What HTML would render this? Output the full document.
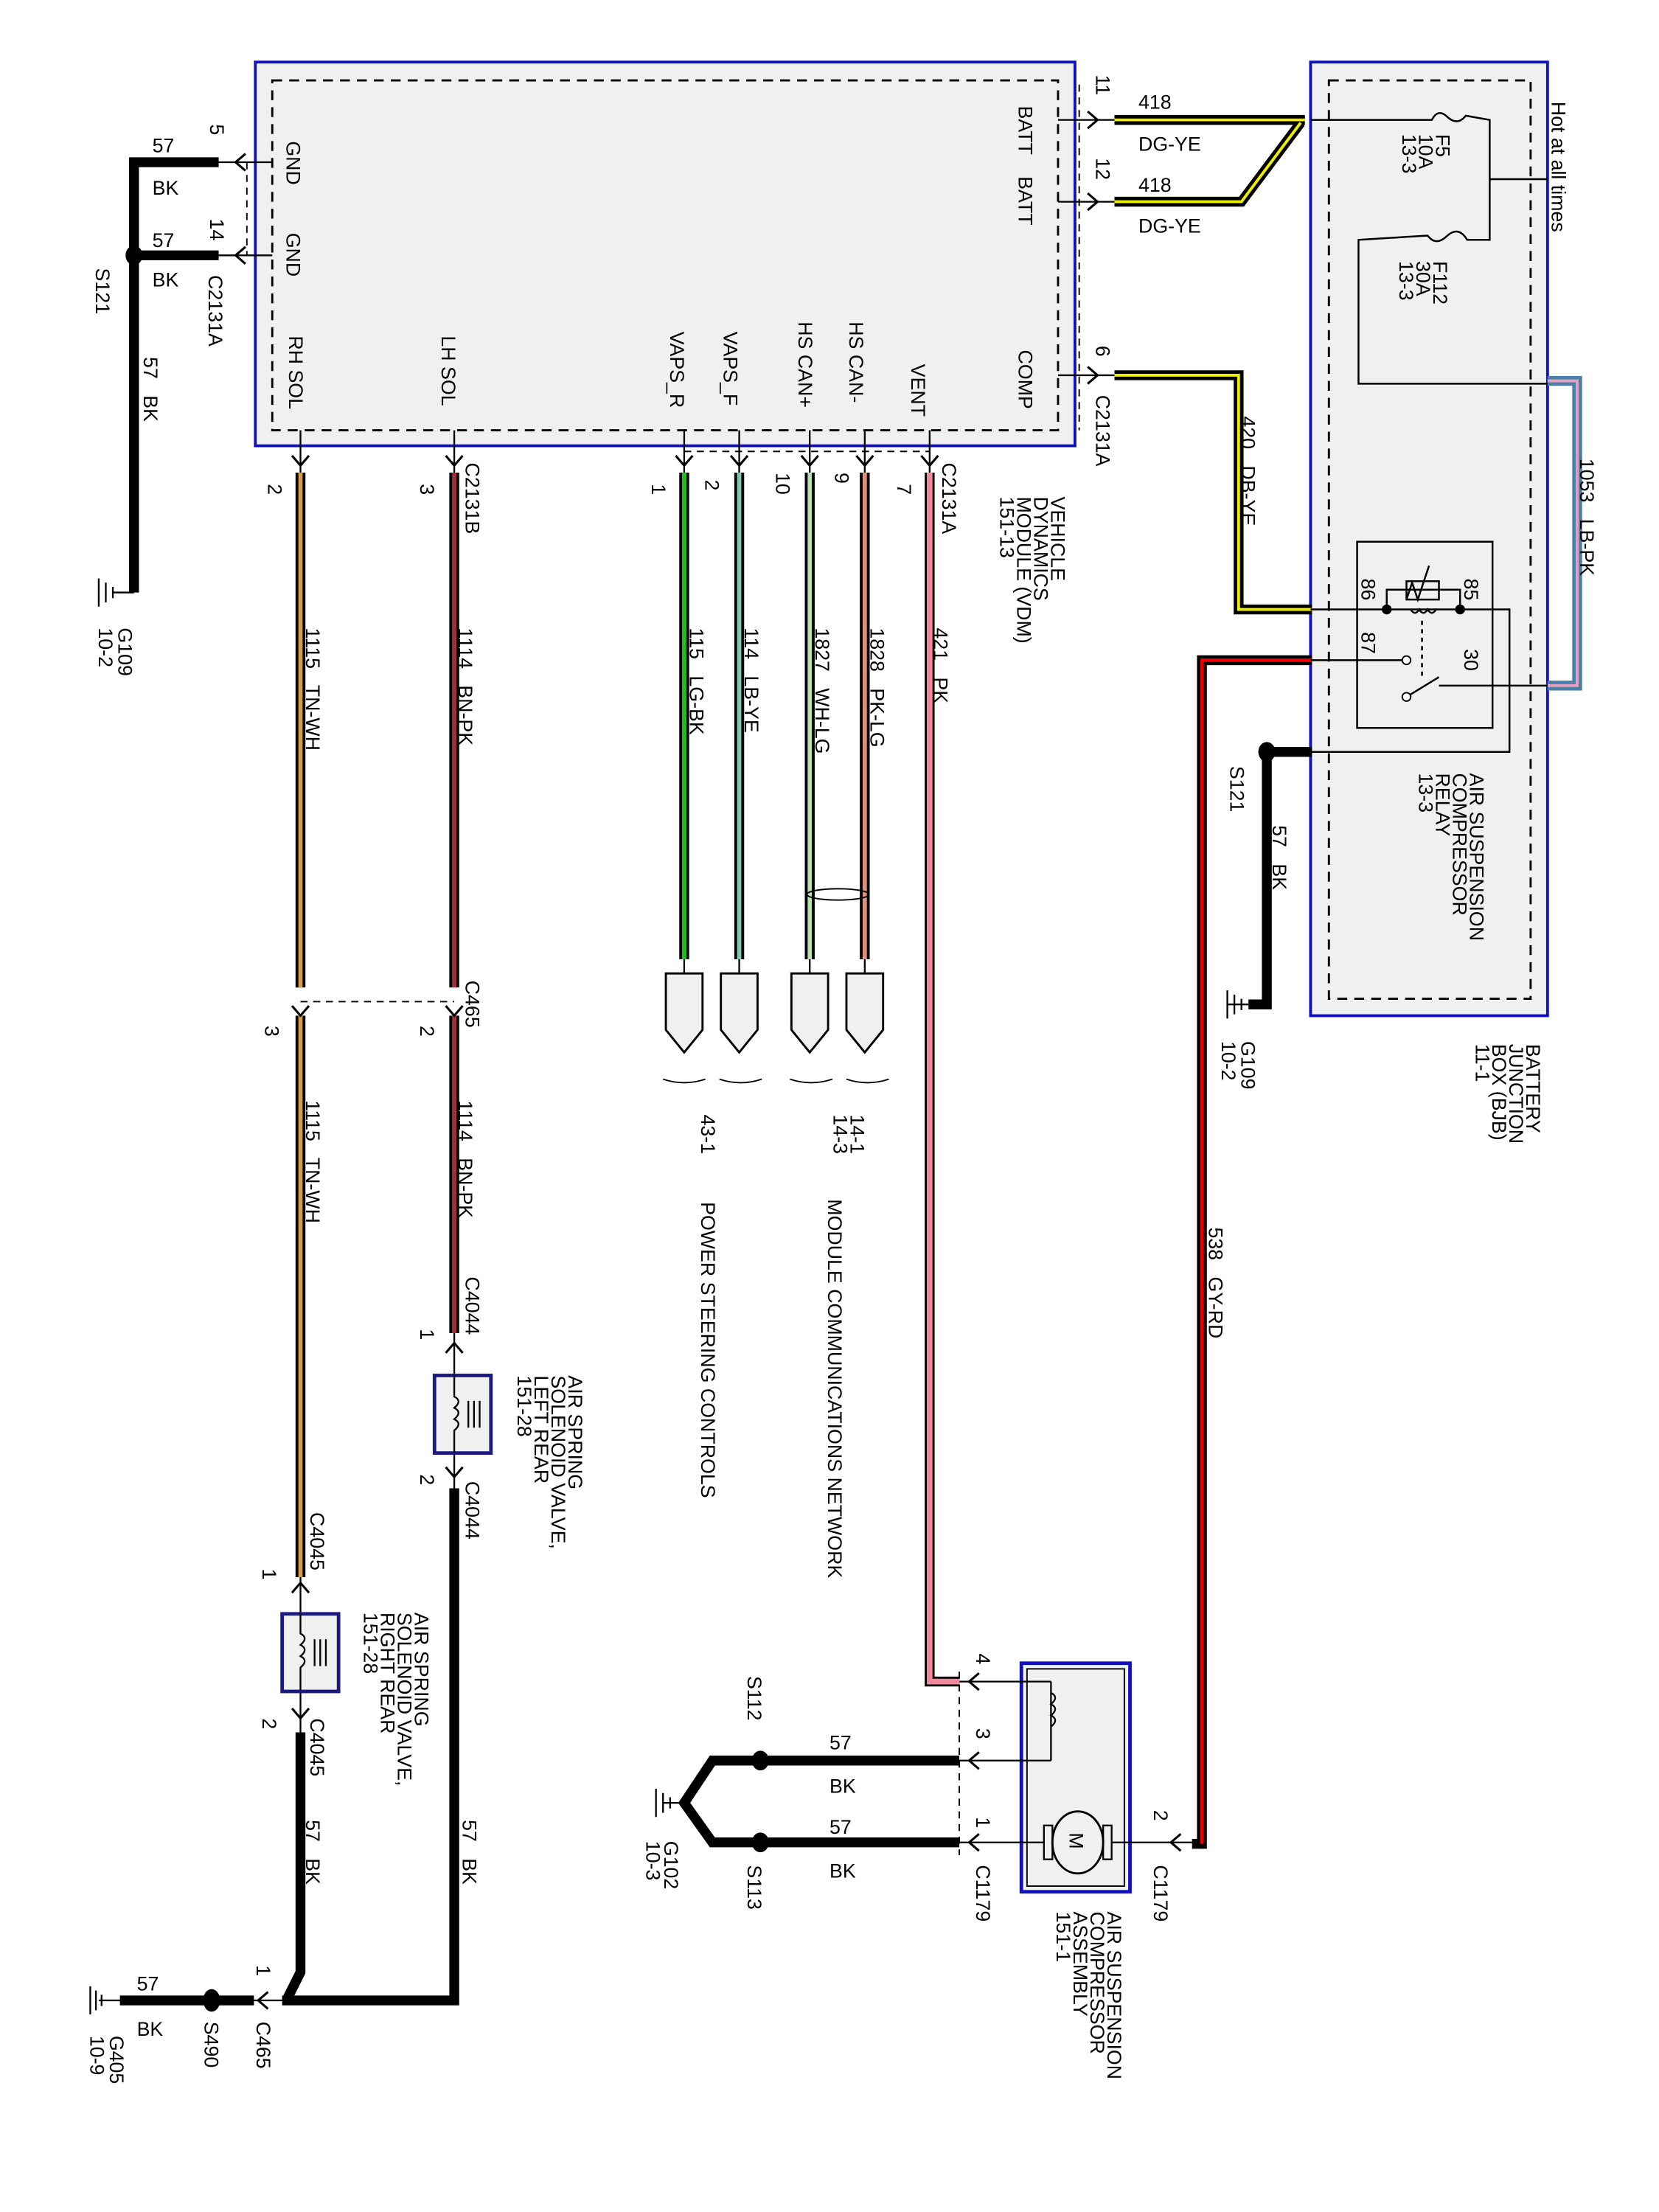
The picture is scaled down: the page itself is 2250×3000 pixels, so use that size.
<!DOCTYPE html>
<html><head><meta charset="utf-8"><style>
html,body{margin:0;padding:0;background:#fff}
svg{display:block}
text{font-family:"Liberation Sans",Arial,sans-serif;font-size:14px;fill:#000;white-space:pre}
</style></head><body>
<svg width="2250" height="3000" viewBox="0 0 1176 1568" xmlns="http://www.w3.org/2000/svg">
<defs>
<g id="chD"><path d="M-6,-7 L0,0 L6,-7" fill="none" stroke="#000" stroke-width="1.6"/></g>
<g id="chU"><path d="M-6,7 L0,0 L6,7" fill="none" stroke="#000" stroke-width="1.6"/></g>
<g id="chR"><path d="M-7,-6 L0,0 L-7,6" fill="none" stroke="#000" stroke-width="1.6"/></g>
<g id="chL"><path d="M7,-6 L0,0 L7,6" fill="none" stroke="#000" stroke-width="1.6"/></g>
</defs>

<rect x="181" y="44" width="581" height="272" fill="#f0f0f0" stroke="#1010c0" stroke-width="2"/>
<rect x="193" y="57" width="557" height="248" fill="none" stroke="#000" stroke-width="1.5" stroke-dasharray="7,5"/>
<line x1="765" y1="60" x2="765" y2="305" stroke="#000" stroke-width="1" stroke-dasharray="5,4"/>
<line x1="175" y1="115" x2="175" y2="181" stroke="#000" stroke-width="1" stroke-dasharray="5,4"/>
<line x1="485" y1="320" x2="659" y2="320" stroke="#000" stroke-width="1" stroke-dasharray="5,4"/>

<rect x="929" y="44" width="168" height="676" fill="#f0f0f0" stroke="#1010c0" stroke-width="2"/>
<rect x="942" y="57" width="143" height="651" fill="none" stroke="#000" stroke-width="1.5" stroke-dasharray="7,5"/>

<rect x="724" y="1179" width="77" height="162" fill="#f0f0f0" stroke="#1010c0" stroke-width="2.5"/>
<rect x="728" y="1183" width="69" height="154" fill="none" stroke="#000" stroke-width="1"/>

<g fill="none" stroke-linejoin="miter">
<path d="M95,420 L95,115 L155,115 M95,181 L155,181" stroke="#000" stroke-width="7"/>
<path d="M790,85 L925,85 M790,143 L880,143 L922,87" stroke="#000" stroke-width="7"/>
<path d="M790,85 L925,85 M790,143 L880,143 L922,87" stroke="#ee0" stroke-width="2"/>
<path d="M790,266 L878,266 L878,432 L930,432" stroke="#000" stroke-width="7"/>
<path d="M790,266 L878,266 L878,432 L930,432" stroke="#ee0" stroke-width="2"/>
<path d="M930,468 L852,468 L852,1307 L845,1307" stroke="#000" stroke-width="7"/>
<path d="M930,468 L852,468 L852,1307" stroke="#e00" stroke-width="2.5"/>
<path d="M1097,270 L1118,270 L1118,486 L1097,486" stroke="#4a7fa8" stroke-width="7"/>
<path d="M1097,270 L1118,270 L1118,486 L1097,486" stroke="#e8a0c0" stroke-width="2"/>
<path d="M930,533 L898,533 L898,712 L885,712" stroke="#000" stroke-width="7"/>
<path d="M213,335 L213,700 M213,720 L213,1118" stroke="#000" stroke-width="7"/>
<path d="M213,335 L213,700 M213,720 L213,1118" stroke="#d99a40" stroke-width="3"/>
<path d="M322,335 L322,700 M322,720 L322,945" stroke="#000" stroke-width="7"/>
<path d="M322,335 L322,700 M322,720 L322,945" stroke="#a0303a" stroke-width="3"/>
<path d="M485,335 L485,680" stroke="#000" stroke-width="7"/>
<path d="M485,335 L485,680" stroke="#20c020" stroke-width="3"/>
<path d="M524,335 L524,680" stroke="#000" stroke-width="7"/>
<path d="M524,335 L524,680" stroke="#80c8b0" stroke-width="3"/>
<path d="M574,335 L574,680" stroke="#000" stroke-width="7"/>
<path d="M574,335 L574,680" stroke="#b8e0b0" stroke-width="3"/>
<path d="M613,335 L613,680" stroke="#000" stroke-width="7"/>
<path d="M613,335 L613,680" stroke="#e09080" stroke-width="3"/>
<path d="M659,335 L659,1192 L680,1192" stroke="#000" stroke-width="7"/>
<path d="M659,335 L659,1192 L680,1192" stroke="#f08a9a" stroke-width="4"/>
<path d="M322,1055 L322,1418 L200,1418 M213,1228 L213,1398 L203,1418 M85,1418 L180,1418" stroke="#000" stroke-width="7"/>
<path d="M540,1248 L680,1248 M540,1306 L680,1306 M540,1248 L505,1248 L485,1278 L505,1306 L540,1306" stroke="#000" stroke-width="7"/>
</g>

<ellipse cx="594" cy="634" rx="22" ry="4" fill="none" stroke="#000" stroke-width="1"/>
<line x1="213" y1="710" x2="322" y2="710" stroke="#000" stroke-width="1" stroke-dasharray="5,4"/>
<line x1="680" y1="1185" x2="680" y2="1315" stroke="#000" stroke-width="1" stroke-dasharray="5,4"/>

<g fill="#000">
<ellipse cx="95" cy="181" rx="6" ry="7"/>
<ellipse cx="898" cy="533" rx="6" ry="7"/>
<ellipse cx="539" cy="1248" rx="6" ry="7"/>
<ellipse cx="539" cy="1306" rx="6" ry="7"/>
<ellipse cx="150" cy="1418" rx="6" ry="8"/>
</g>

<g stroke="#000" stroke-width="1.2">
<line x1="155" y1="115" x2="193" y2="115"/><line x1="155" y1="181" x2="193" y2="181"/>
<line x1="750" y1="85" x2="790" y2="85"/><line x1="750" y1="143" x2="790" y2="143"/><line x1="750" y1="266" x2="790" y2="266"/>
<line x1="213" y1="305" x2="213" y2="335"/><line x1="322" y1="305" x2="322" y2="335"/><line x1="485" y1="305" x2="485" y2="335"/><line x1="524" y1="305" x2="524" y2="335"/><line x1="574" y1="305" x2="574" y2="335"/><line x1="613" y1="305" x2="613" y2="335"/><line x1="659" y1="305" x2="659" y2="335"/>
<line x1="322" y1="945" x2="322" y2="975"/><line x1="322" y1="1030" x2="322" y2="1055"/>
<line x1="213" y1="1118" x2="213" y2="1145"/><line x1="213" y1="1198" x2="213" y2="1228"/>
<line x1="180" y1="1418" x2="200" y2="1418"/><line x1="70" y1="1418" x2="85" y2="1418"/>
<line x1="870" y1="712" x2="885" y2="712"/>
<line x1="470" y1="1278" x2="485" y2="1278"/>
<line x1="680" y1="1192" x2="745" y2="1192"/><line x1="745" y1="1192" x2="745" y2="1248"/><line x1="680" y1="1248" x2="745" y2="1248"/>
<line x1="680" y1="1306" x2="740" y2="1306"/><line x1="788" y1="1306" x2="845" y2="1306"/>
</g>
<use href="#chL" x="167" y="115"/><use href="#chL" x="167" y="181"/>
<use href="#chR" x="778" y="85"/><use href="#chR" x="778" y="143"/><use href="#chR" x="778" y="266"/>
<use href="#chD" x="213" y="330"/><use href="#chD" x="322" y="330"/><use href="#chD" x="485" y="330"/><use href="#chD" x="524" y="330"/><use href="#chD" x="574" y="330"/><use href="#chD" x="613" y="330"/><use href="#chD" x="659" y="330"/>
<use href="#chD" x="213" y="720"/><use href="#chD" x="322" y="720"/>
<use href="#chU" x="322" y="952"/><use href="#chD" x="322" y="1047"/>
<use href="#chU" x="213" y="1122"/><use href="#chD" x="213" y="1218"/>
<use href="#chL" x="183" y="1418"/>
<use href="#chL" x="687" y="1192"/><use href="#chL" x="687" y="1248"/><use href="#chL" x="687" y="1306"/><use href="#chL" x="830" y="1306"/>

<g stroke="#000" stroke-width="1.2">
<path d="M70,410 L70,430 M75,413 L75,427 M80,416 L80,424 M80,420 L95,420"/>
<path d="M870,702 L870,722 M875,705 L875,719 M880,708 L880,716"/>
<path d="M465,1268 L465,1288 M470,1271 L470,1285 M475,1274 L475,1282"/>
<path d="M64,1408 L64,1428 M68,1411 L68,1425 M72,1414 L72,1422"/>
</g>

<g fill="#f0f0f0" stroke="#000" stroke-width="1.5">
<path d="M472,690 L498,690 L498,730 L485,746 L472,730 Z"/>
<path d="M511,690 L537,690 L537,730 L524,746 L511,730 Z"/>
<path d="M561,690 L587,690 L587,730 L574,746 L561,730 Z"/>
<path d="M600,690 L626,690 L626,730 L613,746 L600,730 Z"/>
</g>
<g fill="none" stroke="#000" stroke-width="1">
<path d="M470,765 Q485,770 500,765 M510,765 Q525,770 540,765 M560,765 Q575,770 590,765 M600,765 Q615,770 630,765"/>
</g>
<g fill="none" stroke="#000" stroke-width="1.2">
<line x1="485" y1="680" x2="485" y2="690"/><line x1="524" y1="680" x2="524" y2="690"/><line x1="574" y1="680" x2="574" y2="690"/><line x1="613" y1="680" x2="613" y2="690"/>
</g>

<rect x="308" y="975" width="40" height="55" fill="#f0f0f0" stroke="#1a1a80" stroke-width="2.5"/>
<path d="M322,975 L322,990 q6,3 0,8 q6,3 0,8 q6,3 0,8 L322,1030 M332,993 L332,1012 M336,993 L336,1012 M340,993 L340,1012" fill="none" stroke="#000" stroke-width="1.2"/>
<rect x="200" y="1144" width="40" height="55" fill="#f0f0f0" stroke="#1a1a80" stroke-width="2.5"/>
<path d="M213,1144 L213,1158 q6,3 0,8 q6,3 0,8 q6,3 0,8 L213,1198 M223,1162 L223,1181 M227,1162 L227,1181 M231,1162 L231,1181" fill="none" stroke="#000" stroke-width="1.2"/>

<path d="M745,1200 q6,3 0,8 q6,3 0,8 q6,3 0,8" fill="none" stroke="#000" stroke-width="1.2"/>
<ellipse cx="764" cy="1306" rx="18" ry="22" fill="#f0f0f0" stroke="#000" stroke-width="1.5"/>
<rect x="740" y="1294" width="6" height="24" fill="none" stroke="#000" stroke-width="1.2"/>
<rect x="782" y="1294" width="6" height="24" fill="none" stroke="#000" stroke-width="1.2"/>
<text transform="translate(758,1299) rotate(90)" font-size="14">M</text>

<g fill="none" stroke="#000" stroke-width="1.3">
<path d="M929,85 L1015,85 q4,-8 10,-3 q8,8 14,0 L1056,85 L1056,170 L1040,170 q-6,-10 -14,-3 q-8,8 -14,0 L963,170 L963,272 L1097,272"/>
<path d="M1056,127 L1097,127"/>
<rect x="962" y="384" width="96" height="132"/>
<path d="M929,432 L1070,432 L1070,533 L929,533"/>
<path d="M983,432 L983,418 L1035,418 L1035,432 M997,412 L997,425 L1020,425 L1020,412 Z M997,425 l4,-12 l4,12 l4,-12 l4,-12 M1000,432 q3,5 6,0 q3,5 6,0 q3,5 6,0"/>
<path d="M1008,440 L1008,480" stroke-dasharray="3,3"/>
<path d="M929,468 L995,468 M997,494 L1020,480 M1020,486 L1097,486"/>
</g>
<circle cx="983" cy="432" r="3.5" fill="#000"/><circle cx="1035" cy="432" r="3.5" fill="#000"/>
<circle cx="997" cy="468" r="3" fill="#fff" stroke="#000"/><circle cx="997" cy="494" r="3" fill="#fff" stroke="#000"/>

<g>
<text transform="translate(149,88) rotate(90)">5</text>
<text transform="translate(149,155) rotate(90)">14</text>
<text transform="translate(203,100) rotate(90)">GND</text>
<text transform="translate(203,165) rotate(90)">GND</text>
<text transform="translate(68,190) rotate(90)">S121</text>
<text transform="translate(148,195) rotate(90)">C2131A</text>
<text transform="translate(102,253) rotate(90)">57   BK</text>
<text transform="translate(205,238) rotate(90)">RH SOL</text>
<text transform="translate(313,238) rotate(90)">LH SOL</text>
<text transform="translate(475,235) rotate(90)">VAPS_R</text>
<text transform="translate(513,235) rotate(90)">VAPS_F</text>
<text transform="translate(566,228) rotate(90)">HS CAN+</text>
<text transform="translate(602,228) rotate(90)">HS CAN-</text>
<text transform="translate(646,258) rotate(90)">VENT</text>
<text transform="translate(722,248) rotate(90)">COMP</text>
<text transform="translate(722,75) rotate(90)">BATT</text>
<text transform="translate(722,125) rotate(90)">BATT</text>
<text transform="translate(777,53) rotate(90)">11</text>
<text transform="translate(777,112) rotate(90)">12</text>
<text transform="translate(777,245) rotate(90)">6</text>
<text transform="translate(777,280) rotate(90)">C2131A</text>
<text transform="translate(668,328) rotate(90)">C2131A</text>
<text transform="translate(636,343) rotate(90)">7</text>
<text transform="translate(592,335) rotate(90)">9</text>
<text transform="translate(550,335) rotate(90)">10</text>
<text transform="translate(500,340) rotate(90)">2</text>
<text transform="translate(462,343) rotate(90)">1</text>
<text transform="translate(298,343) rotate(90)">3</text>
<text transform="translate(330,328) rotate(90)">C2131B</text>
<text transform="translate(190,343) rotate(90)">2</text>
<text transform="translate(745,352) rotate(90)">VEHICLE</text>
<text transform="translate(733,352) rotate(90)">DYNAMICS</text>
<text transform="translate(721,352) rotate(90)">MODULE (VDM)</text>
<text transform="translate(709,352) rotate(90)">151-13</text>
<text transform="translate(662,445) rotate(90)">421   PK</text>
<text transform="translate(617,445) rotate(90)">1828   PK-LG</text>
<text transform="translate(578,445) rotate(90)">1827   WH-LG</text>
<text transform="translate(528,445) rotate(90)">114   LB-YE</text>
<text transform="translate(489,445) rotate(90)">115   LG-BK</text>
<text transform="translate(325,445) rotate(90)">1114   BN-PK</text>
<text transform="translate(217,445) rotate(90)">1115   TN-WH</text>
<text transform="translate(84,445) rotate(90)">G109</text>
<text transform="translate(70,445) rotate(90)">10-2</text>
<text transform="translate(330,695) rotate(90)">C465</text>
<text transform="translate(298,727) rotate(90)">2</text>
<text transform="translate(188,727) rotate(90)">3</text>
<text transform="translate(325,780) rotate(90)">1114   BN-PK</text>
<text transform="translate(217,780) rotate(90)">1115   TN-WH</text>
<text transform="translate(330,905) rotate(90)">C4044</text>
<text transform="translate(298,942) rotate(90)">1</text>
<text transform="translate(298,1045) rotate(90)">2</text>
<text transform="translate(330,1050) rotate(90)">C4044</text>
<text transform="translate(403,975) rotate(90)">AIR SPRING</text>
<text transform="translate(391,975) rotate(90)">SOLENOID VALVE,</text>
<text transform="translate(379,975) rotate(90)">LEFT REAR</text>
<text transform="translate(367,975) rotate(90)">151-28</text>
<text transform="translate(220,1072) rotate(90)">C4045</text>
<text transform="translate(186,1112) rotate(90)">1</text>
<text transform="translate(186,1218) rotate(90)">2</text>
<text transform="translate(220,1218) rotate(90)">C4045</text>
<text transform="translate(294,1143) rotate(90)">AIR SPRING</text>
<text transform="translate(282,1143) rotate(90)">SOLENOID VALVE,</text>
<text transform="translate(270,1143) rotate(90)">RIGHT REAR</text>
<text transform="translate(258,1143) rotate(90)">151-28</text>
<text transform="translate(217,1290) rotate(90)">57   BK</text>
<text transform="translate(328,1290) rotate(90)">57   BK</text>
<text transform="translate(182,1393) rotate(90)">1</text>
<text transform="translate(182,1433) rotate(90)">C465</text>
<text transform="translate(145,1433) rotate(90)">S490</text>
<text transform="translate(78,1443) rotate(90)">G405</text>
<text transform="translate(64,1443) rotate(90)">10-9</text>
<text transform="translate(497,790) rotate(90)">43-1</text>
<text transform="translate(603,790) rotate(90)">14-1</text>
<text transform="translate(591,790) rotate(90)">14-3</text>
<text transform="translate(497,852) rotate(90)">POWER STEERING CONTROLS</text>
<text transform="translate(587,850) rotate(90)">MODULE COMMUNICATIONS NETWORK</text>
<text transform="translate(530,1188) rotate(90)">S112</text>
<text transform="translate(530,1322) rotate(90)">S113</text>
<text transform="translate(471,1305) rotate(90)">G102</text>
<text transform="translate(458,1305) rotate(90)">10-3</text>
<text transform="translate(692,1172) rotate(90)">4</text>
<text transform="translate(692,1225) rotate(90)">3</text>
<text transform="translate(692,1288) rotate(90)">1</text>
<text transform="translate(692,1322) rotate(90)">C1179</text>
<text transform="translate(818,1283) rotate(90)">2</text>
<text transform="translate(818,1322) rotate(90)">C1179</text>
<text transform="translate(785,1355) rotate(90)">AIR SUSPENSION</text>
<text transform="translate(773,1355) rotate(90)">COMPRESSOR</text>
<text transform="translate(761,1355) rotate(90)">ASSEMBLY</text>
<text transform="translate(749,1355) rotate(90)">151-1</text>
<text transform="translate(857,870) rotate(90)">538   GY-RD</text>
<text transform="translate(880,295) rotate(90)">420   DB-YE</text>
<text transform="translate(1120,325) rotate(90)">1053   LB-PK</text>
<text transform="translate(1100,72) rotate(90)">Hot at all times</text>
<text transform="translate(1018,95) rotate(90)">F5</text>
<text transform="translate(1006,95) rotate(90)">10A</text>
<text transform="translate(994,95) rotate(90)">13-3</text>
<text transform="translate(1016,185) rotate(90)">F112</text>
<text transform="translate(1004,185) rotate(90)">30A</text>
<text transform="translate(992,185) rotate(90)">13-3</text>
<text transform="translate(965,410) rotate(90)">86</text>
<text transform="translate(1038,410) rotate(90)">85</text>
<text transform="translate(965,448) rotate(90)">87</text>
<text transform="translate(1038,460) rotate(90)">30</text>
<text transform="translate(1042,548) rotate(90)">AIR SUSPENSION</text>
<text transform="translate(1030,548) rotate(90)">COMPRESSOR</text>
<text transform="translate(1018,548) rotate(90)">RELAY</text>
<text transform="translate(1006,548) rotate(90)">13-3</text>
<text transform="translate(872,543) rotate(90)">S121</text>
<text transform="translate(902,585) rotate(90)">57   BK</text>
<text transform="translate(880,738) rotate(90)">G109</text>
<text transform="translate(866,738) rotate(90)">10-2</text>
<text transform="translate(1082,740) rotate(90)">BATTERY</text>
<text transform="translate(1070,740) rotate(90)">JUNCTION</text>
<text transform="translate(1058,740) rotate(90)">BOX (BJB)</text>
<text transform="translate(1046,740) rotate(90)">11-1</text>
</g>
<g>
<text x="108" y="108">57</text><text x="108" y="138">BK</text>
<text x="108" y="175">57</text><text x="108" y="203">BK</text>
<text x="807" y="77">418</text><text x="807" y="107">DG-YE</text>
<text x="807" y="136">418</text><text x="807" y="165">DG-YE</text>
<text x="588" y="1240">57</text><text x="588" y="1271">BK</text>
<text x="588" y="1300">57</text><text x="588" y="1331">BK</text>
<text x="97" y="1411">57</text><text x="97" y="1443">BK</text>
</g>
</svg>
</body></html>
